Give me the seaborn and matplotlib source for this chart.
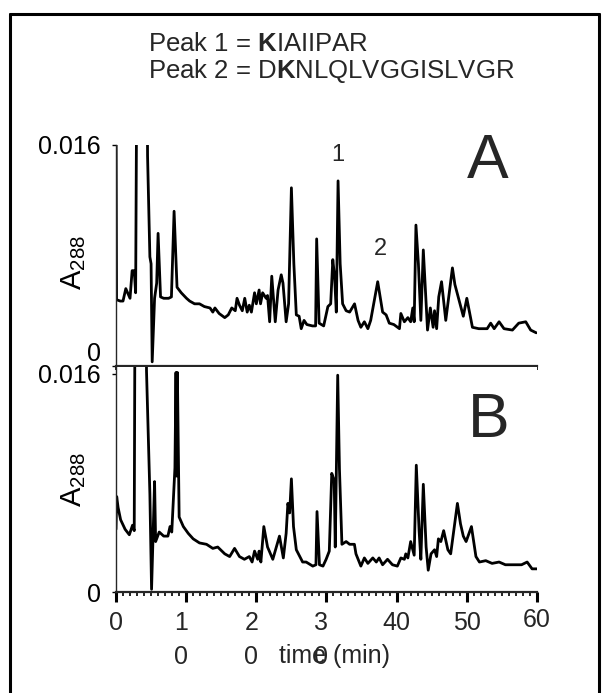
import numpy as np
import pandas as pd
import matplotlib
matplotlib.use("Agg")
import matplotlib.pyplot as plt
import matplotlib.transforms as mtransforms
from matplotlib.lines import Line2D
import seaborn as sns

# ========== style ==========
sns.set_style("ticks")
plt.rcParams["font.family"] = ["Liberation Sans", "DejaVu Sans"]
plt.rcParams["mathtext.fontset"] = "custom"
plt.rcParams["mathtext.rm"] = "Liberation Sans"
plt.rcParams["mathtext.bf"] = "Liberation Sans:bold"
plt.rcParams["mathtext.it"] = "Liberation Sans:italic"

# ========== data (A288 units; 0.02 = off scale) ==========
a_time = [0.0, 0.08, 0.6, 1.0, 1.4, 2.0, 2.3, 2.6, 2.8, 2.95, 4.45, 4.5, 4.83, 5.0, 5.16,
          5.5, 5.8, 6.0, 6.35, 6.8, 7.5, 7.9, 8.28, 8.7, 9.3, 10.05, 10.5, 11.2, 11.9,
          12.6, 13.4, 13.8, 14.1, 14.7, 15.5, 16.0, 16.5, 17.0, 17.25, 17.6, 18.0, 18.35,
          18.7, 19.0, 19.3, 19.75, 20.0, 20.4, 20.6, 20.9, 21.4, 21.6, 21.9, 22.2, 22.7,
          23.1, 23.55, 23.8, 24.25, 24.6, 25.0, 25.35, 25.7, 26.1, 26.4, 26.8, 27.2, 28.0,
          28.45, 28.6, 28.95, 29.6, 30.2, 30.6, 30.9, 31.15, 31.4, 31.65, 31.95, 32.3,
          32.8, 33.3, 34.0, 34.5, 34.9, 35.4, 35.9, 36.3, 37.3, 38.0, 38.5, 38.95, 39.6,
          40.4, 40.6, 41.1, 41.6, 42.0, 42.3, 42.5, 42.75, 43.1, 43.45, 43.8, 44.4, 44.8,
          45.2, 45.4, 45.7, 46.0, 46.4, 47.0, 47.95, 48.3, 49.5, 50.0, 50.8, 51.7, 52.9,
          53.4, 53.9, 54.6, 55.3, 56.5, 57.4, 58.4, 59.1, 59.9]
a_abs = [0.02, 0.0048, 0.0047, 0.0047, 0.0056, 0.0049, 0.0069, 0.0069, 0.0053, 0.02, 0.02,
         0.0152, 0.0079, 0.0074, 0.0003, 0.0049, 0.0060, 0.0096, 0.0050, 0.0049, 0.0049,
         0.0050, 0.0112, 0.0057, 0.0053, 0.0049, 0.0047, 0.0045, 0.0045, 0.0043, 0.0042,
         0.0039, 0.0042, 0.0038, 0.0035, 0.0037, 0.0042, 0.0040, 0.0049, 0.0044, 0.0040,
         0.0049, 0.0039, 0.0044, 0.0039, 0.0053, 0.0045, 0.0055, 0.0045, 0.0053, 0.0049,
         0.0051, 0.0032, 0.0065, 0.0032, 0.0055, 0.0066, 0.0060, 0.0032, 0.0045, 0.0129,
         0.0074, 0.0037, 0.0036, 0.0027, 0.0033, 0.0030, 0.0029, 0.0029, 0.0092, 0.0031,
         0.0029, 0.0043, 0.0045, 0.0077, 0.0065, 0.0039, 0.0134, 0.0074, 0.0045, 0.0040,
         0.0039, 0.0045, 0.0033, 0.0028, 0.0032, 0.0027, 0.0033, 0.0061, 0.0039, 0.0037,
         0.0031, 0.0030, 0.0027, 0.0038, 0.0032, 0.0035, 0.0032, 0.0042, 0.0032, 0.0102,
         0.0074, 0.0033, 0.0084, 0.0026, 0.0042, 0.0028, 0.0040, 0.0027, 0.0050, 0.0061,
         0.0033, 0.0071, 0.0059, 0.0036, 0.0049, 0.0028, 0.0027, 0.0027, 0.0031, 0.0027,
         0.0032, 0.0027, 0.0026, 0.0031, 0.0032, 0.0026, 0.0024]

b_time = [0.0, 0.1, 0.3, 0.66, 1.3, 1.9, 2.36, 2.6, 2.7, 4.3, 4.35, 4.83, 5.07, 5.5, 5.65,
          6.16, 6.8, 7.4, 7.7, 7.95, 8.4, 8.55, 8.65, 8.75, 9.0, 9.6, 10.3, 11.0, 11.9,
          12.9, 13.8, 14.5, 15.5, 16.2, 16.9, 17.6, 18.3, 19.0, 19.4, 19.75, 20.2, 20.4,
          20.65, 21.07, 21.6, 22.35, 23.3, 23.85, 24.25, 24.5, 24.75, 25.0, 25.3, 25.7,
          26.2, 26.6, 27.1, 28.05, 28.5, 28.65, 29.0, 29.5, 29.95, 30.4, 30.75, 31.1,
          31.25, 31.6, 31.85, 32.2, 32.8, 33.3, 33.98, 34.2, 34.9, 35.4, 35.9, 36.6, 37.1,
          37.5, 38.0, 38.7, 39.4, 40.1, 40.6, 41.1, 41.3, 41.6, 42.0, 42.5, 42.8, 43.2,
          43.45, 43.8, 44.2, 44.5, 44.9, 45.4, 45.7, 45.95, 46.3, 46.7, 47.3, 47.7, 48.66,
          49.1, 49.5, 49.9, 50.66, 51.3, 51.8, 52.7, 53.6, 54.6, 55.5, 56.6, 57.8, 58.6,
          59.3, 60.0]
b_abs = [0.0046, 0.0070, 0.0062, 0.0053, 0.0046, 0.0042, 0.0049, 0.0045, 0.02, 0.02,
         0.0162, 0.0072, 0.0002, 0.0081, 0.0037, 0.0044, 0.0041, 0.0041, 0.0048, 0.0044,
         0.0091, 0.0161, 0.0085, 0.0161, 0.0055, 0.0048, 0.0043, 0.0039, 0.0036, 0.0035,
         0.0032, 0.0033, 0.0028, 0.0026, 0.0032, 0.0026, 0.0024, 0.0026, 0.0022, 0.0030,
         0.0024, 0.0030, 0.0022, 0.0048, 0.0033, 0.0024, 0.0041, 0.0025, 0.0043, 0.0065,
         0.0058, 0.0083, 0.0048, 0.0031, 0.0026, 0.0022, 0.0022, 0.0019, 0.0020, 0.0059,
         0.0020, 0.0019, 0.0024, 0.0030, 0.0087, 0.0082, 0.0033, 0.0159, 0.0090, 0.0035,
         0.0037, 0.0035, 0.0035, 0.0028, 0.0019, 0.0025, 0.0021, 0.0025, 0.0022, 0.0025,
         0.0020, 0.0024, 0.0020, 0.0019, 0.0025, 0.0024, 0.0028, 0.0025, 0.0037, 0.0027,
         0.0093, 0.0045, 0.0024, 0.0079, 0.0033, 0.0016, 0.0028, 0.0031, 0.0026, 0.0039,
         0.0037, 0.0045, 0.0031, 0.0028, 0.0065, 0.0050, 0.0041, 0.0037, 0.0048, 0.0026,
         0.0022, 0.0023, 0.0021, 0.0022, 0.0020, 0.0020, 0.0020, 0.0022, 0.0017, 0.0017]

x_major = [0, 10, 20, 30, 40, 50, 60]
x_labels = ["0", "1\n0", "2\n0", "3\n0", "40", "50", "60"]
y_ticks = [0, 0.016]
y_labels = ["0", "0.016"]
peak_lines = [r"Peak 1 = $\mathbf{K}$IAIIPAR", r"Peak 2 = D$\mathbf{K}$NLQLVGGISLVGR"]
peak_marks = [("1", 31.65, 0.0153), ("2", 37.75, 0.0085)]

df_a = pd.DataFrame({"time": a_time, "abs": a_abs})
df_b = pd.DataFrame({"time": b_time, "abs": b_abs})

# ========== figure ==========
fig = plt.figure(figsize=(6.06, 6.93), dpi=100)
axA = fig.add_axes([0.1914, 0.4719, 0.6947, 0.3189])
axB = fig.add_axes([0.1914, 0.1457, 0.6947, 0.3247])

for ax, df, ytop in [(axA, df_a, 0.016), (axB, df_b, 0.0165)]:
    sns.lineplot(data=df, x="time", y="abs", ax=ax, color="black", lw=2.0,
                 estimator=None, sort=False)
    ax.set_xlim(0, 60)
    ax.set_ylim(0, ytop)
    sns.despine(ax=ax)
    ax.spines["left"].set_linewidth(1.0)
    ax.spines["bottom"].set_linewidth(1.6)
    ax.set_yticks(y_ticks)
    ax.set_yticklabels(y_labels, fontsize=18)
    ax.tick_params(axis="y", length=3, width=1, pad=8, color="black", labelcolor="black")
    ax.set_xticks(x_major)
    ax.set_xticks(range(61), minor=True)
    ax.set_ylabel(r"A$_{288}$", fontsize=21, color="black")
    ax.set_facecolor("white")

# panel A: small ticks only, no labels
axA.tick_params(axis="x", which="both", length=3, width=1.2, labelbottom=False,
                direction="out", color="black")
axA.set_xlabel("")
axA.yaxis.set_label_coords(-0.066, 0.466)
# the "0" of panel A sits above its tick
axA.get_yticklabels()[0].set_va("bottom")

# panel B: long major ticks with labels
axB.set_xticklabels(x_labels, fontsize=18, linespacing=1.5)
axB.tick_params(axis="x", which="major", length=7, width=2.2, pad=7, color="black")
axB.tick_params(axis="x", which="minor", length=3, width=1.2, color="black")
axB.yaxis.set_label_coords(-0.066, 0.50)
axB.set_xlabel("time (min)", fontsize=18)
axB.xaxis.set_label_coords(0.52, -0.284)
axB.xaxis.label.set_va("center")

shift = mtransforms.ScaledTranslation(-0.05, 0, fig.dpi_scale_trans)
for lab in axB.get_xticklabels()[1:4]:
    lab.set_transform(lab.get_transform() + shift)
raise_60 = mtransforms.ScaledTranslation(0, 0.03, fig.dpi_scale_trans)
last = axB.get_xticklabels()[-1]
last.set_transform(last.get_transform() + raise_60)

# panel letters and peak numbers
axA.text(0.884, 0.923, "A", transform=axA.transAxes, fontsize=45, ha="center", va="center")
axB.text(0.886, 0.764, "B", transform=axB.transAxes, fontsize=45, ha="center", va="center")
for txt, px, py in peak_marks:
    axA.text(px, py, txt, fontsize=17, ha="center", va="center")

# header text
fig.text(0.244, 0.926, peak_lines[0], fontsize=18.5, ha="left", va="baseline")
fig.text(0.244, 0.888, peak_lines[1], fontsize=18.5, ha="left", va="baseline")

# frame around the figure (open at the bottom)
for xs, ys in [([0.0157, 0.0157], [0.0, 0.9798]),
               ([0.0157, 0.9884], [0.9798, 0.9798]),
               ([0.9884, 0.9884], [0.0, 0.9798])]:
    fig.add_artist(Line2D(xs, ys, transform=fig.transFigure, color="black", lw=2.2))

plt.savefig("out.png", dpi=100)
